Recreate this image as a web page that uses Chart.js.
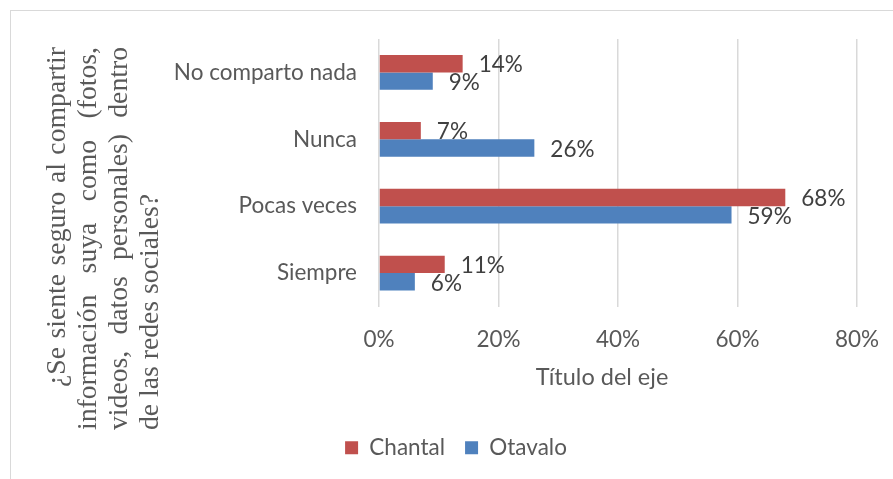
<!DOCTYPE html>
<html>
<head>
<meta charset="utf-8">
<script src="https://cdn.jsdelivr.net/npm/chart.js@4.4.1/dist/chart.umd.min.js"></script>
<style>
html,body{margin:0;padding:0;overflow:hidden;background:#ffffff;}
#wrap{position:absolute;left:0;top:0;width:912px;height:479px;}
</style>
</head>
<body>
<div id="wrap"><canvas id="c"></canvas></div>
<script>
// ---- data ----
const categories = ['No comparto nada', 'Nunca', 'Pocas veces', 'Siempre'];
const seriesNames = ['Chantal', 'Otavalo'];
const chantalValues = [14, 7, 68, 11];
const otavaloValues = [9, 26, 59, 6];
const xTickValues = [0, 20, 40, 60, 80];
const xAxisTitle = 'Título del eje';
const yAxisTitleLines = [
  '¿Se siente seguro al compartir',
  'información suya como (fotos,',
  'videos, datos personales) dentro',
  'de las redes sociales?'
];

const TEXT = '#595959';
const SANS = 'Lato';
const FS = 22.5;

// frame around the chart (extends past the right/bottom of the view)
const framePlugin = {
  id: 'frame',
  beforeDraw(chart) {
    const ctx = chart.ctx;
    ctx.save();
    ctx.strokeStyle = '#D9D9D9';
    ctx.lineWidth = 1;
    ctx.strokeRect(10.5, 10.5, 891, 480);
    ctx.restore();
  }
};

// rotated, justified y-axis title
const yTitlePlugin = {
  id: 'yTitle',
  afterDraw(chart) {
    const ctx = chart.ctx;
    ctx.save();
    ctx.font = '100px "Liberation Serif"';
    const last = yAxisTitleLines[yAxisTitleLines.length - 1];
    const size = 100 * 236 / ctx.measureText(last).width;
    ctx.font = size.toFixed(2) + 'px "Liberation Serif"';
    ctx.fillStyle = TEXT;
    ctx.textBaseline = 'alphabetic';
    ctx.textAlign = 'left';
    const bottom = 430, top = 47, indent = 43;
    yAxisTitleLines.forEach((line, i) => {
      const words = line.split(' ');
      const start = bottom - (i === 0 ? indent : 0);
      const len = start - top;
      const widths = words.map(w => ctx.measureText(w).width);
      const total = widths.reduce((a, b) => a + b, 0);
      let gap = ctx.measureText(' ').width;
      if (i < yAxisTitleLines.length - 1 && words.length > 1) {
        gap = (len - total) / (words.length - 1);
      }
      ctx.save();
      ctx.translate(65 + 31 * i, start);
      ctx.rotate(-Math.PI / 2);
      let cx = 0;
      words.forEach((w, k) => {
        ctx.fillText(w, cx, 0);
        cx += widths[k] + gap;
      });
      ctx.restore();
    });
    ctx.restore();
  }
};

// x axis title, drawn below tick labels
const xTitlePlugin = {
  id: 'xTitle',
  afterDraw(chart) {
    const ctx = chart.ctx;
    const a = chart.chartArea;
    ctx.save();
    ctx.font = '23.5px ' + SANS;
    ctx.fillStyle = TEXT;
    ctx.textAlign = 'center';
    ctx.textBaseline = 'middle';
    ctx.fillText(xAxisTitle, (a.left + a.right) / 2 - 16, a.bottom + 71);
    ctx.restore();
  }
};

// value labels at the bar ends
const valueLabelPlugin = {
  id: 'valueLabels',
  afterDatasetsDraw(chart) {
    const ctx = chart.ctx;
    ctx.save();
    ctx.font = FS + 'px ' + SANS;
    ctx.fillStyle = '#404040';
    ctx.textAlign = 'left';
    ctx.textBaseline = 'middle';
    chart.data.datasets.forEach((ds, di) => {
      const meta = chart.getDatasetMeta(di);
      meta.data.forEach((bar, i) => {
        ctx.fillText(ds.data[i] + '%', bar.x + 16, bar.y + 1.5);
      });
    });
    ctx.restore();
  }
};

new Chart(document.getElementById('c'), {
  type: 'bar',
  data: {
    labels: categories,
    datasets: [
      { label: seriesNames[0], data: chantalValues, backgroundColor: '#C0504D', borderWidth: 0 },
      { label: seriesNames[1], data: otavaloValues, backgroundColor: '#4F81BD', borderWidth: 0 }
    ]
  },
  options: {
    indexAxis: 'y',
    responsive: true,
    maintainAspectRatio: false,
    animation: false,
    devicePixelRatio: 1,
    datasets: { bar: { barPercentage: 1, categoryPercentage: 0.52 } },
    layout: { padding: { top: 39, right: 55, bottom: 10, left: 55 } },
    scales: {
      x: {
        min: 0, max: 80,
        afterFit(s) { s.height = 110; },
        afterBuildTicks(s) { s.ticks = xTickValues.map(v => ({ value: v })); },
        grid: { color: '#D9D9D9', lineWidth: 1.5, drawTicks: false },
        border: { display: false },
        ticks: {
          padding: 20,
          color: TEXT,
          font: { family: SANS, size: FS },
          callback: v => v + '%'
        }
      },
      y: {
        afterFit(s) { s.width = 324; },
        grid: { display: false, drawTicks: false },
        border: { display: false },
        ticks: { padding: 22, color: TEXT, font: { family: SANS, size: FS } }
      }
    },
    plugins: {
      legend: {
        position: 'bottom',
        labels: {
          boxWidth: 13, boxHeight: 13, padding: 20,
          color: TEXT, font: { family: SANS, size: FS }
        }
      },
      tooltip: { enabled: false }
    }
  },
  plugins: [framePlugin, yTitlePlugin, xTitlePlugin, valueLabelPlugin]
});
</script>
</body>
</html>
